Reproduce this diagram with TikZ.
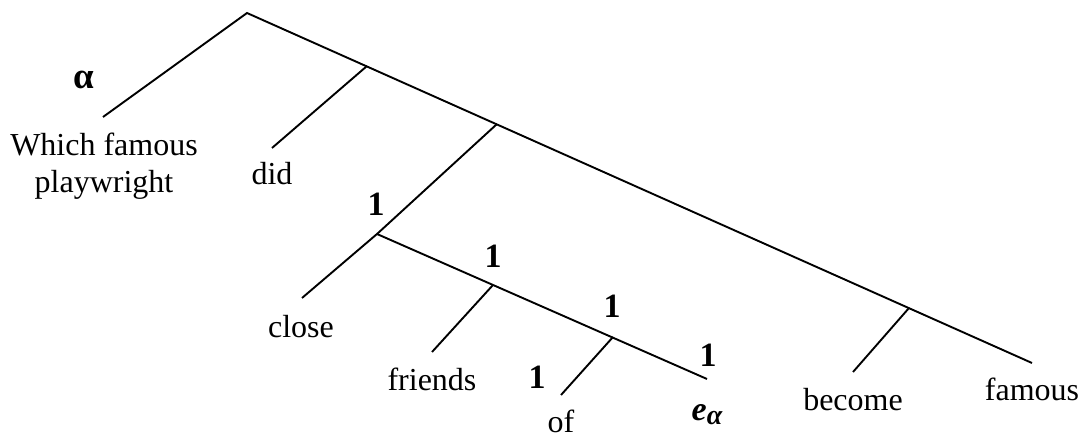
\documentclass[tikz,border=0pt]{standalone}
\usepackage{fontspec}
\setmainfont{Liberation Serif}
\tikzset{
  branch/.style={line width=1.9pt},
  word/.style={font=\fontsize{32}{37}\selectfont,anchor=base,inner sep=0pt,align=center},
  index/.style={font=\fontsize{34}{36}\selectfont\bfseries,anchor=base,inner sep=0pt}
}

\begin{document}
\begin{tikzpicture}[x=1pt,y=-1pt]
  \useasboundingbox (0,0) rectangle (1083,438);

  % junctions and branch ends
  \coordinate (root) at (247,13);
  \coordinate (whichend) at (103,117);
  \coordinate (topend) at (1032,363);
  \coordinate (didnode) at (367,66);
  \coordinate (didend) at (272,148);
  \coordinate (vpnode) at (497,124);
  \coordinate (closenode) at (377,234);
  \coordinate (closeend) at (302,298);
  \coordinate (gapend) at (707,379);
  \coordinate (friendsnode) at (493,285);
  \coordinate (friendsend) at (432,352);
  \coordinate (ofnode) at (613,337);
  \coordinate (ofend) at (561,395);
  \coordinate (becomenode) at (909,308);
  \coordinate (becomeend) at (853,372);

  \draw[branch] (whichend) -- (root) -- (topend);
  \draw[branch] (didnode) -- (didend);
  \draw[branch] (vpnode) -- (closenode) -- (closeend);
  \draw[branch] (closenode) -- (gapend);
  \draw[branch] (friendsnode) -- (friendsend);
  \draw[branch] (ofnode) -- (ofend);
  \draw[branch] (becomenode) -- (becomeend);

  % words
  \node[word] (which) at (104,193) {Which famous\\playwright};
  \node[word] (did) at (272,185) {did};
  \node[word] (close) at (301,337) {close};
  \node[word] (friends) at (432,390) {friends};
  \node[word] (of) at (561,432) {of};
  \node[word] (become) at (853,410) {become};
  \node[word] (famous) at (1032,400) {famous};
  \node[word,font=\fontsize{34}{37}\selectfont\bfseries\itshape] (gap) at (707,420)
    {e\raisebox{-4pt}{\fontsize{28}{28}\selectfont α}};

  % indices
  \node[index,font=\fontsize{37}{40}\selectfont\bfseries] (alpha) at (84,89) {α};
  \node[index] (oneclose) at (376,216) {1};
  \node[index] (onefriends) at (493,267) {1};
  \node[index] (oneof) at (612,317) {1};
  \node[index] (onegap) at (708,366) {1};
  \node[index] (oneobj) at (537,388) {1};
\end{tikzpicture}
\end{document}
